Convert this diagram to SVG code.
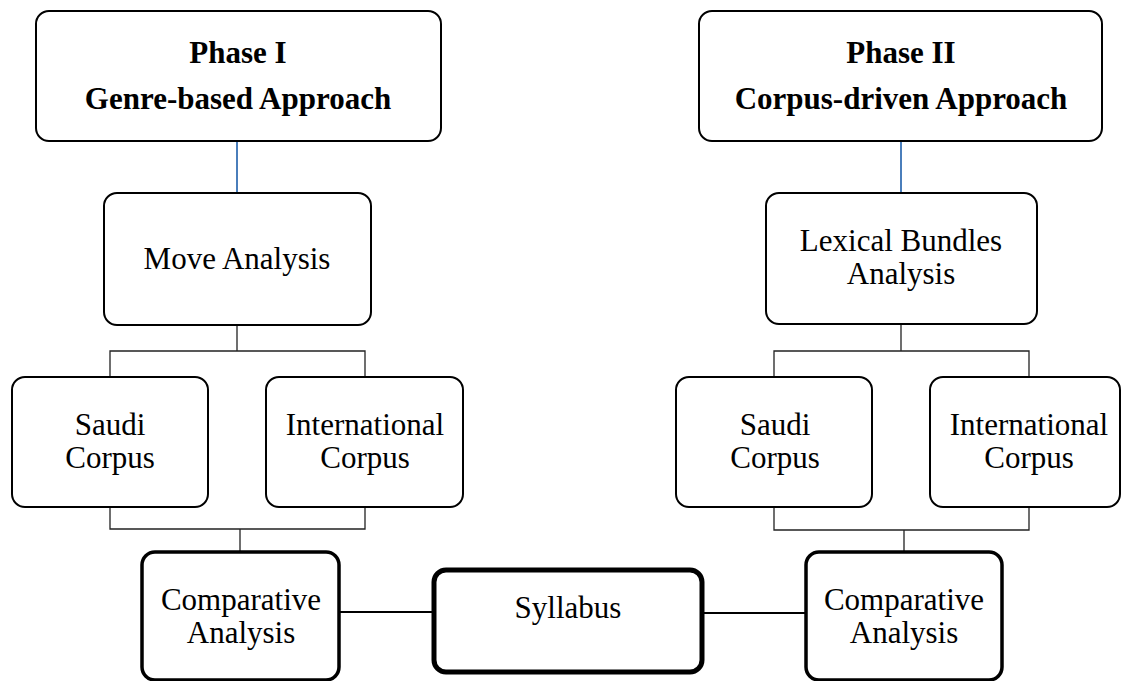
<svg xmlns="http://www.w3.org/2000/svg" width="1122" height="681" viewBox="0 0 1122 681">
<style>
.box{fill:#fff;stroke:#000;stroke-width:2}
.thick{fill:#fff;stroke:#000;stroke-width:3.5}
.thicker{fill:#fff;stroke:#000;stroke-width:5}
.t{font-family:"Liberation Serif","Times New Roman",serif;font-size:31px;fill:#000;text-anchor:middle}
.b{font-weight:bold}
.c{fill:none;stroke:#222;stroke-width:1.3}
.blue{fill:none;stroke:#4a7ebb;stroke-width:2}
.h{fill:none;stroke:#000;stroke-width:2}
</style>
<rect width="1122" height="681" fill="#fff"/>
<g id="connectors">
<line class="blue" x1="237" y1="141" x2="237" y2="193"/>
<line class="blue" x1="901" y1="141" x2="901" y2="193"/>
<path class="c" d="M237 325 V351 M110 377 V351 H365 V377"/>
<path class="c" d="M110 507 V529 H365 V507 M240 529 V552"/>
<path class="c" d="M901 325 V351 M774 377 V351 H1029 V377"/>
<path class="c" d="M774 507 V530 H1029 V507 M904 530 V552"/>
<line class="h" x1="339" y1="612" x2="434" y2="612"/>
<line class="h" x1="702" y1="613" x2="806" y2="613"/>
</g>
<g id="phase1">
<rect class="box" x="36" y="11" width="405" height="130" rx="13"/>
<text class="t b" x="238" y="63">Phase I</text>
<text class="t b" x="238" y="109">Genre-based Approach</text>
</g>
<g id="phase2">
<rect class="box" x="699" y="11" width="403" height="130" rx="13"/>
<text class="t b" x="901" y="63">Phase II</text>
<text class="t b" x="901" y="109">Corpus-driven Approach</text>
</g>
<g id="move">
<rect class="box" x="104" y="193" width="267" height="132" rx="13"/>
<text class="t" x="237" y="269">Move Analysis</text>
</g>
<g id="lexical">
<rect class="box" x="766" y="193" width="271" height="131" rx="13"/>
<text class="t" x="901" y="251">Lexical Bundles</text>
<text class="t" x="901" y="284">Analysis</text>
</g>
<g id="saudi1">
<rect class="box" x="12" y="377" width="196" height="130" rx="13"/>
<text class="t" x="110" y="435">Saudi</text>
<text class="t" x="110" y="468">Corpus</text>
</g>
<g id="intl1">
<rect class="box" x="266" y="377" width="197" height="130" rx="13"/>
<text class="t" x="365" y="435">International</text>
<text class="t" x="365" y="468">Corpus</text>
</g>
<g id="saudi2">
<rect class="box" x="676" y="377" width="196" height="130" rx="13"/>
<text class="t" x="775" y="435">Saudi</text>
<text class="t" x="775" y="468">Corpus</text>
</g>
<g id="intl2">
<rect class="box" x="930" y="377" width="190" height="130" rx="13"/>
<text class="t" x="1029" y="435">International</text>
<text class="t" x="1029" y="468">Corpus</text>
</g>
<g id="comp1">
<rect class="thick" x="142" y="552" width="197" height="128" rx="13"/>
<text class="t" x="241" y="610">Comparative</text>
<text class="t" x="241" y="643">Analysis</text>
</g>
<g id="syllabus">
<rect class="thicker" x="434" y="570" width="268" height="102" rx="12"/>
<text class="t" x="568" y="618">Syllabus</text>
</g>
<g id="comp2">
<rect class="thick" x="806" y="552" width="196" height="128" rx="13"/>
<text class="t" x="904" y="610">Comparative</text>
<text class="t" x="904" y="643">Analysis</text>
</g>
</svg>
